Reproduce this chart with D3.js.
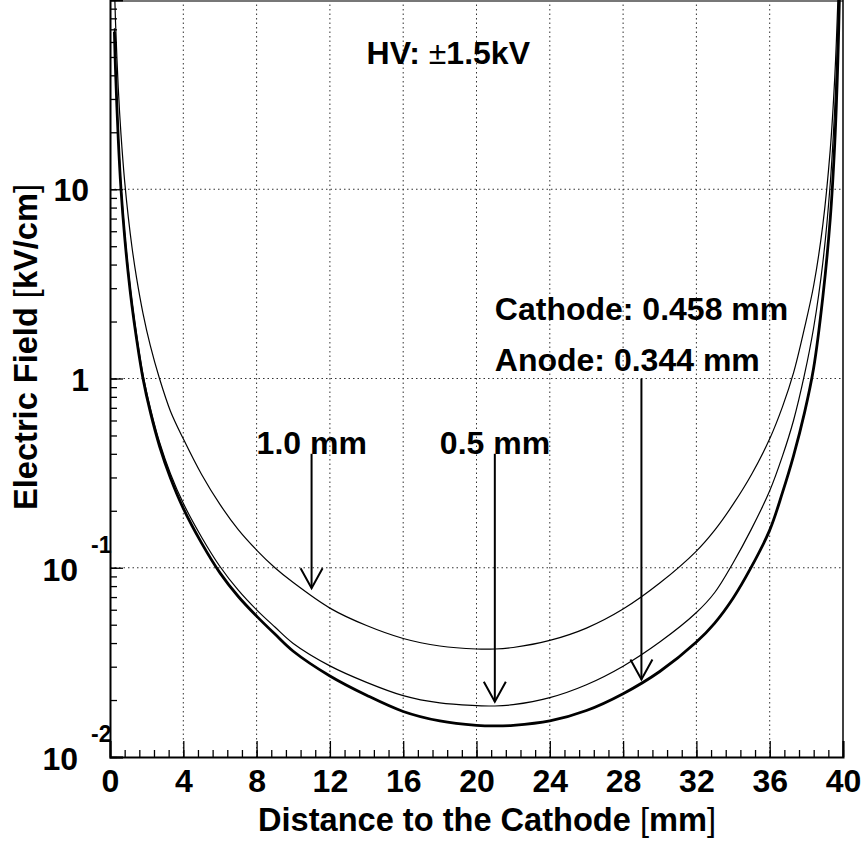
<!DOCTYPE html>
<html>
<head>
<meta charset="utf-8">
<script src="https://cdn.jsdelivr.net/npm/d3@7"></script>
<style>
body{ margin:0; background:#fff; }
text{ font-family:"Liberation Sans", Arial, sans-serif; font-weight:bold; fill:#000; }
</style>
</head>
<body>
<svg id="chart" width="863" height="844"></svg>
<script>
// distance to cathode (mm)
var xs = [0.22, 0.24, 0.3, 0.45, 0.6, 0.8, 1.0, 1.2, 1.45, 1.8, 2.2, 2.7, 3.3, 4, 5, 6, 7, 8, 9, 10,
          12, 14, 16, 18, 20, 21, 22, 24, 26, 28, 30, 32, 33, 34, 35, 36, 36.7, 37.3, 37.9,
          38.4, 38.9, 39.3, 39.55, 39.72, 39.82];
// field (kV/cm)
var fieldThick = [null, 68, 43, 18.5, 10, 5.6, 3.55, 2.42, 1.62, 1.0, 0.665, 0.44, 0.298, 0.206, 0.135, 0.094, 0.0705, 0.0555, 0.0446, 0.0362,
          0.0268, 0.0212, 0.0174, 0.0155, 0.0147, 0.0146, 0.0147, 0.0155, 0.0176, 0.0216, 0.0283, 0.0405, 0.051, 0.069, 0.101, 0.158, 0.25, 0.39, 0.66,
          1.14, 2.7, 6.9, 17.5, 48, 120];
var fieldMid = [null, 71, 45, 19.4, 10.5, 5.9, 3.73, 2.54, 1.70, 1.05, 0.70, 0.462, 0.314, 0.219, 0.145, 0.1015, 0.0761, 0.0599, 0.0486, 0.0398,
          0.0303, 0.0248, 0.0211, 0.0193, 0.0187, 0.0186, 0.0189, 0.0206, 0.0241, 0.0302, 0.0405, 0.058, 0.074, 0.106, 0.16, 0.255, 0.39, 0.6, 1.05,
          1.86, 4.1, 10.6, 27, 72, 180];
var fieldUpper = [142, 120, 77, 34.5, 19.5, 11.0, 7.1, 4.94, 3.4, 2.21, 1.49, 1.0, 0.672, 0.48, 0.311, 0.216, 0.159, 0.124, 0.1, 0.0835,
          0.0612, 0.0495, 0.0423, 0.0386, 0.0372, 0.0372, 0.0379, 0.0413, 0.048, 0.0605, 0.083, 0.1225, 0.158, 0.216, 0.31, 0.48, 0.71, 1.07, 1.85,
          3.1, 6.5, 16, 39, 100, 240];

var xMajor = [0, 4, 8, 12, 16, 20, 24, 28, 32, 36, 40];
var xTickLabels = ["0", "4", "8", "12", "16", "20", "24", "28", "32", "36", "40"];
var yMajor = [0.01, 0.1, 1, 10];
var yTickBase = ["10", "10", "1", "10"];
var yTickExp = ["-2", "-1", "", ""];

// annotations in data coordinates
var notes = [
  {x: 14, y: 46, text: "HV: ", pm: true},
  {x: 8, y: 0.4, text: "1.0 mm"},
  {x: 18, y: 0.4, text: "0.5 mm"},
  {x: 21, y: 2.04, text: "Cathode: 0.458 mm"},
  {x: 21, y: 1.09, text: "Anode: 0.344 mm"}
];
var arrows = [
  {x: 11, from: 0.4, to: 0.078},
  {x: 21, from: 0.4, to: 0.0196},
  {x: 29, from: 1.0, to: 0.0257}
];

var margin = {left: 110, right: 20, top: 0, bottom: 87};
var W = 863, H = 844;
var svg = d3.select("#chart");
svg.append("rect").attr("width", W).attr("height", H).attr("fill", "#fff");

var x = d3.scaleLinear().domain([0, 40]).range([margin.left, W - margin.right]);
var y = d3.scaleLog().domain([0.01, 100]).range([H - margin.bottom, margin.top]);
var x0 = x.range()[0], x1 = x.range()[1], yb = y.range()[0], yt = y.range()[1];

svg.append("clipPath").attr("id", "plotclip").append("rect")
  .attr("x", x0).attr("y", yt).attr("width", x1 - x0).attr("height", yb - yt);

// grid
var grid = svg.append("g").attr("stroke", "#333").attr("stroke-width", 1).attr("stroke-dasharray", "1.5,3");
grid.selectAll("line.gx").data(xMajor.slice(1, -1)).enter().append("line")
  .attr("x1", d => x(d)).attr("x2", d => x(d)).attr("y1", yt).attr("y2", yb);
grid.selectAll("line.gy").data(yMajor.slice(1)).enter().append("line")
  .attr("x1", x0).attr("x2", x1).attr("y1", d => y(d)).attr("y2", d => y(d));

// frame top / right
svg.append("line").attr("x1", x0).attr("x2", x1).attr("y1", 1).attr("y2", 1)
  .attr("stroke", "#777").attr("stroke-width", 2);
svg.append("line").attr("x1", x1).attr("x2", x1).attr("y1", 0).attr("y2", yb)
  .attr("stroke", "#000").attr("stroke-width", 1.5);

// axes
var xMinor = d3.range(0, 40.001, 0.8);
svg.append("g").attr("transform", "translate(0," + yb + ")")
  .call(d3.axisBottom(x).tickValues(xMinor).tickSize(-7).tickFormat(""))
  .call(g => g.select(".domain").remove());
var xAx = svg.append("g").attr("transform", "translate(0," + yb + ")")
  .call(d3.axisBottom(x).tickValues(xMajor).tickSize(-16).tickPadding(12)
    .tickFormat((d, i) => xTickLabels[i]));
xAx.select(".domain").attr("stroke-width", 2);
xAx.selectAll("text").attr("font-size", 32).attr("fill", "#000");

svg.append("g").attr("transform", "translate(" + x0 + ",0)")
  .call(d3.axisLeft(y).tickValues(y.ticks()).tickSize(-7).tickFormat(""))
  .call(g => g.select(".domain").remove());
var yAx = svg.append("g").attr("transform", "translate(" + x0 + ",0)")
  .call(d3.axisLeft(y).tickValues(yMajor).tickSize(-13).tickFormat(""));
yAx.select(".domain").attr("stroke-width", 2);
svg.selectAll(".tick line").attr("stroke-width", 1.3);

// y tick labels
yMajor.forEach(function(v, i){
  var ty = y(v);
  if (yTickExp[i]) {
    svg.append("text").attr("x", 78).attr("y", ty + 13).attr("text-anchor", "end")
      .attr("font-size", 32).text(yTickBase[i]);
    svg.append("text").attr("x", 91).attr("y", ty - 15)
      .attr("font-size", 23).text(yTickExp[i]);
  } else {
    svg.append("text").attr("x", 89).attr("y", ty + 12).attr("text-anchor", "end")
      .attr("font-size", 32).text(yTickBase[i]);
  }
});

// titles
var xt = svg.append("text").attr("x", 716).attr("y", 831).attr("text-anchor", "end").attr("font-size", 32.6);
xt.append("tspan").text("Distance to the Cathode ");
xt.append("tspan").attr("font-weight", "normal").text("[");
xt.append("tspan").text("mm");
xt.append("tspan").attr("font-weight", "normal").text("]");

var yt2 = svg.append("text").attr("transform", "translate(37,184) rotate(-90)")
  .attr("text-anchor", "end").attr("font-size", 32.6);
yt2.append("tspan").text("Electric Field ");
yt2.append("tspan").attr("font-weight", "normal").text("[");
yt2.append("tspan").text("kV/cm");
yt2.append("tspan").attr("font-weight", "normal").text("]");

// curves
var line = d3.line().defined(d => d[1] != null)
  .x(d => x(d[0])).y(d => y(d[1])).curve(d3.curveCatmullRom.alpha(0.5));
var curves = svg.append("g").attr("clip-path", "url(#plotclip)").attr("fill", "none").attr("stroke", "#000");
curves.append("path").attr("d", line(d3.zip(xs, fieldUpper))).attr("stroke-width", 1.2);
curves.append("path").attr("d", line(d3.zip(xs, fieldMid))).attr("stroke-width", 1.2);
curves.append("path").attr("d", line(d3.zip(xs, fieldThick))).attr("stroke-width", 2.8);

// arrows
var ag = svg.append("g").attr("stroke", "#000").attr("stroke-width", 2).attr("fill", "none");
arrows.forEach(function(a){
  var ax = x(a.x), ya = y(a.from), yz = y(a.to);
  ag.append("line").attr("x1", ax).attr("x2", ax).attr("y1", ya).attr("y2", yz);
  ag.append("path").attr("d", "M" + (ax - 11) + "," + (yz - 20) + "L" + ax + "," + yz + "L" + (ax + 11) + "," + (yz - 20));
});

// texts
notes.forEach(function(n){
  var t = svg.append("text").attr("x", x(n.x)).attr("y", y(n.y)).attr("font-size", 32);
  if (n.pm) {
    t.append("tspan").text(n.text);
    t.append("tspan").attr("font-weight", "normal").text("\u00b1");
    t.append("tspan").text("1.5kV");
  } else {
    t.text(n.text);
  }
});
</script>
</body>
</html>
